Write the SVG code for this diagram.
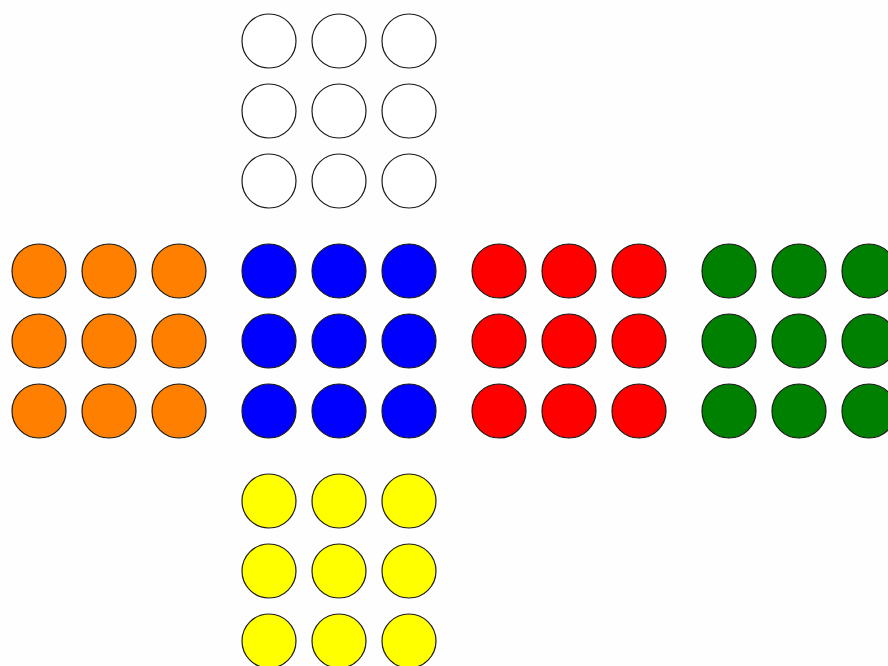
<svg xmlns="http://www.w3.org/2000/svg" width="888" height="666" viewBox="0 0 888 666">
<style>
circle{stroke:#1a1a1a;stroke-width:1.2}
.w{fill:#ffffff}.o{fill:#ff8000}.b{fill:#0000ff}.r{fill:#ff0000}.g{fill:#008000}.y{fill:#ffff00}
</style>
<defs>
<g id="grid">
<circle cx="0" cy="0" r="27"/><circle cx="70" cy="0" r="27"/><circle cx="140" cy="0" r="27"/>
<circle cx="0" cy="70" r="27"/><circle cx="70" cy="70" r="27"/><circle cx="140" cy="70" r="27"/>
<circle cx="0" cy="140" r="27"/><circle cx="70" cy="140" r="27"/><circle cx="140" cy="140" r="27"/>
</g>
</defs>
<rect width="888" height="666" fill="#fefefe"/>
<g id="white" class="w"><use href="#grid" x="269" y="41"/></g>
<g id="orange" class="o"><use href="#grid" x="39" y="271"/></g>
<g id="blue" class="b"><use href="#grid" x="269" y="271"/></g>
<g id="red" class="r"><use href="#grid" x="499" y="271"/></g>
<g id="green" class="g"><use href="#grid" x="729" y="271"/></g>
<g id="yellow" class="y"><use href="#grid" x="269" y="501"/></g>
<g id="connectors"/>
</svg>
